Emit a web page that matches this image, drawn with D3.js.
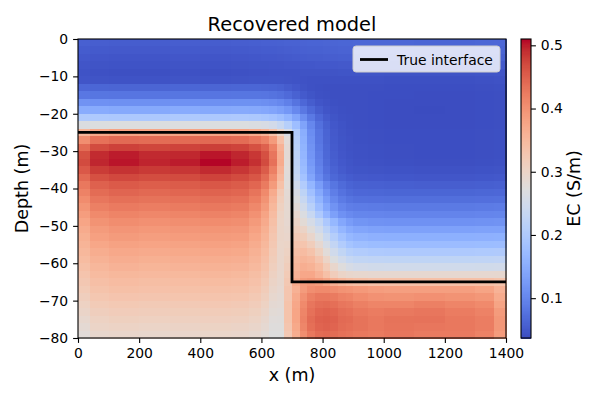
<!DOCTYPE html>
<html>
<head>
<meta charset="utf-8">
<script src="https://cdn.jsdelivr.net/npm/d3@7"></script>
<style>
  body { margin: 0; background: #fff; }
  svg { display: block; font-family: "DejaVu Sans", sans-serif; }
</style>
</head>
<body>
<div id="chart"></div>
<script>
// cell edges of the recovered model
const xEdges = [0, 40, 100, 200, 300, 400, 500, 560, 600, 625, 650, 675, 700, 725, 750, 775, 800, 825, 850, 875, 900, 950, 1000, 1100, 1200, 1300, 1360, 1400];
const depthEdges = [0, 2, 4, 6, 8, 10, 12, 14, 16, 18, 20, 22, 24, 26, 28, 30, 32, 34, 36, 38, 40,
                    42, 44, 46, 48, 50, 52, 54, 56, 58, 60, 62, 64, 66, 68, 70, 72, 74, 76, 78, 80];

// EC (S/m), one row per depth layer, one value per x cell
const ecGrid = [
  [.058,.056,.055,.055,.056,.055,.056,.057,.058,.058,.059,.060,.060,.061,.062,.062,.063,.063,.064,.064,.065,.065,.065,.064,.064,.065,.066],
  [.054,.052,.051,.051,.052,.051,.052,.053,.054,.054,.055,.056,.057,.058,.059,.059,.060,.060,.061,.061,.062,.062,.062,.061,.061,.062,.063],
  [.050,.048,.047,.047,.048,.047,.048,.049,.050,.050,.051,.052,.053,.054,.055,.055,.056,.056,.057,.057,.058,.058,.058,.057,.057,.058,.059],
  [.047,.045,.044,.044,.045,.044,.045,.046,.046,.047,.047,.048,.048,.049,.049,.050,.050,.050,.051,.051,.051,.051,.051,.050,.050,.051,.052],
  [.044,.042,.041,.041,.042,.041,.042,.043,.043,.044,.044,.044,.044,.045,.045,.045,.045,.045,.046,.046,.046,.046,.045,.045,.045,.046,.047],
  [.047,.045,.044,.044,.045,.044,.045,.046,.046,.046,.046,.045,.044,.043,.042,.042,.042,.042,.042,.042,.042,.042,.041,.041,.041,.042,.043],
  [.066,.064,.063,.063,.064,.063,.064,.064,.063,.062,.060,.055,.050,.045,.042,.041,.040,.040,.040,.040,.040,.040,.039,.039,.039,.040,.041],
  [.084,.082,.081,.081,.082,.081,.082,.082,.081,.079,.076,.069,.060,.052,.046,.042,.041,.040,.040,.040,.040,.039,.039,.038,.038,.039,.040],
  [.117,.115,.113,.113,.115,.113,.114,.114,.112,.109,.104,.094,.080,.066,.055,.047,.043,.041,.040,.040,.040,.039,.038,.038,.038,.039,.040],
  [.150,.148,.146,.146,.148,.146,.147,.146,.143,.139,.133,.122,.104,.085,.068,.055,.047,.043,.041,.040,.040,.039,.038,.037,.038,.039,.040],
  [.202,.200,.198,.198,.200,.198,.199,.197,.193,.187,.178,.163,.140,.112,.086,.066,.053,.046,.042,.041,.040,.039,.038,.038,.038,.039,.040],
  [.268,.270,.272,.270,.271,.270,.270,.267,.262,.253,.236,.212,.178,.138,.102,.076,.059,.049,.044,.041,.040,.039,.038,.038,.038,.039,.040],
  [.355,.375,.382,.380,.381,.382,.380,.372,.360,.338,.300,.262,.205,.152,.110,.081,.062,.051,.045,.042,.041,.040,.039,.039,.039,.040,.041],
  [.405,.435,.442,.440,.441,.443,.440,.430,.418,.390,.340,.280,.212,.157,.113,.083,.063,.052,.046,.043,.041,.040,.039,.039,.039,.040,.041],
  [.440,.470,.478,.474,.476,.480,.476,.465,.450,.418,.360,.285,.216,.161,.117,.086,.065,.053,.047,.043,.042,.041,.040,.039,.039,.040,.041],
  [.465,.493,.500,.494,.495,.503,.496,.485,.466,.430,.368,.285,.220,.165,.120,.089,.067,.055,.048,.044,.042,.041,.040,.039,.039,.040,.041],
  [.470,.496,.503,.497,.500,.510,.500,.490,.470,.435,.370,.282,.224,.170,.125,.093,.070,.057,.050,.046,.043,.042,.041,.040,.040,.041,.042],
  [.458,.482,.488,.483,.486,.494,.486,.475,.455,.420,.360,.280,.229,.176,.131,.098,.075,.061,.053,.048,.046,.045,.044,.043,.043,.044,.045],
  [.443,.466,.472,.468,.470,.476,.470,.460,.440,.405,.350,.278,.236,.186,.141,.106,.082,.067,.059,.054,.051,.050,.049,.048,.048,.049,.050],
  [.428,.450,.456,.453,.455,.459,.455,.445,.425,.390,.338,.280,.250,.205,.165,.130,.100,.082,.070,.062,.059,.058,.057,.056,.056,.057,.058],
  [.418,.440,.446,.443,.445,.448,.445,.432,.410,.370,.322,.285,.262,.222,.182,.146,.115,.092,.078,.070,.066,.065,.064,.064,.064,.065,.066],
  [.408,.430,.436,.433,.435,.438,.435,.422,.400,.360,.314,.287,.272,.237,.198,.161,.128,.103,.088,.080,.076,.075,.074,.074,.074,.075,.076],
  [.398,.420,.426,.423,.425,.428,.425,.412,.390,.352,.308,.288,.282,.252,.214,.177,.143,.117,.100,.092,.089,.088,.087,.087,.087,.088,.089],
  [.388,.410,.416,.413,.415,.418,.415,.402,.380,.345,.303,.289,.292,.268,.236,.200,.164,.134,.115,.106,.101,.100,.099,.099,.099,.100,.101],
  [.378,.400,.406,.403,.405,.408,.405,.392,.371,.339,.300,.290,.302,.283,.258,.232,.198,.168,.143,.128,.119,.116,.115,.115,.115,.116,.117],
  [.370,.391,.397,.394,.396,.398,.396,.383,.364,.334,.299,.293,.312,.302,.278,.252,.220,.190,.165,.148,.140,.136,.135,.135,.135,.136,.137],
  [.364,.384,.390,.387,.389,.391,.389,.376,.358,.329,.299,.296,.322,.316,.296,.271,.240,.210,.185,.168,.160,.156,.155,.155,.155,.156,.157],
  [.358,.376,.382,.379,.381,.383,.381,.369,.352,.325,.298,.300,.331,.331,.315,.290,.260,.230,.205,.188,.180,.176,.175,.175,.175,.176,.177],
  [.352,.368,.374,.371,.373,.375,.373,.362,.346,.320,.297,.305,.340,.345,.335,.310,.280,.250,.228,.212,.205,.201,.200,.200,.200,.201,.202],
  [.346,.361,.367,.364,.366,.368,.366,.356,.341,.316,.297,.310,.348,.356,.350,.330,.300,.270,.250,.235,.228,.226,.225,.225,.225,.226,.227],
  [.340,.354,.360,.357,.359,.361,.359,.350,.336,.312,.296,.315,.354,.366,.361,.346,.320,.295,.275,.261,.254,.251,.250,.250,.250,.251,.252],
  [.333,.347,.352,.350,.351,.353,.351,.343,.330,.307,.295,.320,.360,.375,.375,.360,.340,.315,.300,.294,.292,.290,.290,.290,.290,.290,.291],
  [.327,.341,.345,.343,.344,.346,.344,.337,.324,.302,.293,.325,.370,.390,.395,.390,.380,.365,.355,.348,.343,.340,.340,.340,.340,.340,.335],
  [.320,.335,.339,.337,.338,.340,.338,.331,.318,.297,.290,.330,.362,.390,.405,.410,.410,.405,.400,.398,.393,.388,.385,.386,.385,.380,.360],
  [.313,.328,.332,.330,.331,.333,.331,.324,.312,.292,.287,.330,.370,.402,.420,.428,.428,.425,.418,.415,.408,.402,.400,.403,.400,.395,.370],
  [.306,.320,.324,.322,.323,.325,.323,.317,.305,.287,.284,.335,.375,.410,.430,.438,.440,.437,.430,.427,.420,.415,.415,.420,.415,.410,.380],
  [.299,.313,.317,.315,.316,.318,.316,.310,.299,.283,.281,.335,.378,.415,.435,.445,.448,.445,.438,.435,.428,.424,.427,.430,.424,.418,.390],
  [.292,.306,.310,.308,.309,.311,.309,.303,.293,.279,.278,.335,.378,.418,.440,.450,.452,.450,.442,.440,.433,.428,.433,.434,.428,.423,.395],
  [.286,.300,.303,.301,.302,.304,.302,.297,.288,.276,.276,.330,.373,.414,.437,.447,.450,.447,.440,.437,.433,.428,.432,.430,.428,.423,.395],
  [.280,.294,.297,.295,.296,.298,.296,.291,.283,.273,.274,.325,.368,.405,.428,.440,.443,.440,.435,.432,.428,.425,.430,.426,.426,.418,.390]
];

// true interface (x in m, depth in m)
const interfaceX = [0, 700, 700, 1400];
const interfaceDepth = [25, 25, 65, 65];

const xTicks = [0, 200, 400, 600, 800, 1000, 1200, 1400];
const yTicks = [0, -10, -20, -30, -40, -50, -60, -70, -80];
const cbarTicks = [0.1, 0.2, 0.3, 0.4, 0.5];

// matplotlib coolwarm anchors
const coolwarmStops = [
  [59,76,192],[68,90,204],[77,104,215],[87,117,225],[98,130,234],[108,142,241],[119,154,247],[130,165,251],
  [141,176,254],[152,185,255],[163,194,255],[174,201,253],[184,208,249],[194,213,244],[204,217,238],[213,219,230],
  [221,221,221],[229,216,209],[236,211,197],[241,204,185],[245,196,173],[247,187,160],[247,177,148],[247,166,135],
  [244,154,123],[241,141,111],[236,127,99],[229,112,88],[222,96,77],[213,80,66],[203,62,56],[192,40,47],[180,4,38]
];

const width = 600, height = 400;
const margin = { top: 39, left: 78, right: 94, bottom: 62 };
const plotW = width - margin.left - margin.right,
      plotH = height - margin.top - margin.bottom;

const svg = d3.select("#chart").append("svg")
  .attr("width", width)
  .attr("height", height);

const x = d3.scaleLinear().domain([0, 1400]).range([margin.left, margin.left + plotW]);
const y = d3.scaleLinear().domain([0, -80]).range([margin.top, margin.top + plotH]);

const ecExtent = d3.extent(ecGrid.flat());
const cmap = d3.scaleLinear()
  .domain(coolwarmStops.map((d, i) => i / (coolwarmStops.length - 1)))
  .range(coolwarmStops.map(c => d3.rgb(c[0], c[1], c[2])))
  .interpolate(d3.interpolateRgb);
const norm = d3.scaleLinear().domain(ecExtent).range([0, 1]).clamp(true);
const color = v => cmap(norm(v));

// cells
const cells = [];
ecGrid.forEach((row, i) => row.forEach((v, j) => cells.push({ i, j, v })));

svg.append("g")
  .attr("shape-rendering", "crispEdges")
  .selectAll("rect")
  .data(cells)
  .enter()
  .append("rect")
  .attr("x", d => x(xEdges[d.j]))
  .attr("y", d => y(-depthEdges[d.i]))
  .attr("width", d => x(xEdges[d.j + 1]) - x(xEdges[d.j]) + 0.5)
  .attr("height", d => y(-depthEdges[d.i + 1]) - y(-depthEdges[d.i]) + 0.5)
  .attr("fill", d => color(d.v));

// true interface
const line = d3.line()
  .x((d, i) => x(interfaceX[i]))
  .y((d, i) => y(-interfaceDepth[i]));
svg.append("path")
  .attr("d", line(interfaceX))
  .attr("fill", "none")
  .attr("stroke", "#000")
  .attr("stroke-width", 2.8);

// frame
svg.append("rect")
  .attr("x", margin.left).attr("y", margin.top)
  .attr("width", plotW).attr("height", plotH)
  .attr("fill", "none").attr("stroke", "#000").attr("stroke-width", 1.1);

// axes
const fmt = d3.format("d");
const xAxis = svg.append("g")
  .attr("transform", "translate(0," + (margin.top + plotH) + ")")
  .call(d3.axisBottom(x).tickValues(xTicks).tickFormat(fmt).tickSize(4.9).tickPadding(4.9));
const yAxis = svg.append("g")
  .attr("transform", "translate(" + margin.left + ",0)")
  .call(d3.axisLeft(y).tickValues(yTicks).tickFormat(fmt).tickSize(4.9).tickPadding(4.9));
[xAxis, yAxis].forEach(g => {
  g.select(".domain").remove();
  g.selectAll(".tick line").attr("stroke", "#000").attr("stroke-width", 1.1);
  g.selectAll(".tick text").attr("font-size", "13.9px").attr("fill", "#000")
    .attr("font-family", "DejaVu Sans, sans-serif");
});

// labels
svg.append("text")
  .attr("x", margin.left + plotW / 2).attr("y", 31)
  .attr("text-anchor", "middle").attr("font-size", "19.4px")
  .text("Recovered model");
svg.append("text")
  .attr("x", margin.left + plotW / 2).attr("y", 381)
  .attr("text-anchor", "middle").attr("font-size", "17.5px")
  .text("x (m)");
svg.append("text")
  .attr("transform", "translate(28," + (margin.top + plotH / 2) + ") rotate(-90)")
  .attr("text-anchor", "middle").attr("font-size", "17.5px")
  .text("Depth (m)");

// legend
const lg = svg.append("g").attr("transform", "translate(353,46)");
lg.append("rect")
  .attr("width", 147).attr("height", 26).attr("rx", 3)
  .attr("fill", "#fff").attr("fill-opacity", 0.8)
  .attr("stroke", "#cccccc").attr("stroke-width", 1);
lg.append("line")
  .attr("x1", 7).attr("x2", 35).attr("y1", 13.5).attr("y2", 13.5)
  .attr("stroke", "#000").attr("stroke-width", 2.8);
lg.append("text")
  .attr("x", 44).attr("y", 18.5)
  .attr("font-size", "13.9px")
  .text("True interface");

// colorbar
const cbX = 521, cbW = 10;
const cy = d3.scaleLinear().domain(ecExtent).range([margin.top + plotH, margin.top]);
const steps = d3.range(256).map(k => ecExtent[0] + (ecExtent[1] - ecExtent[0]) * k / 256);
const stepH = (ecExtent[1] - ecExtent[0]) / 256;
svg.append("g")
  .attr("shape-rendering", "crispEdges")
  .selectAll("rect")
  .data(steps)
  .enter()
  .append("rect")
  .attr("x", cbX)
  .attr("width", cbW)
  .attr("y", d => cy(d + stepH))
  .attr("height", d => cy(d) - cy(d + stepH) + 0.6)
  .attr("fill", d => color(d + stepH / 2));
svg.append("rect")
  .attr("x", cbX).attr("y", margin.top)
  .attr("width", cbW).attr("height", plotH)
  .attr("fill", "none").attr("stroke", "#000").attr("stroke-width", 1.1);
const cAxis = svg.append("g")
  .attr("transform", "translate(" + (cbX + cbW) + ",0)")
  .call(d3.axisRight(cy).tickValues(cbarTicks).tickFormat(d3.format(".1f")).tickSize(4.9).tickPadding(4.9));
cAxis.select(".domain").remove();
cAxis.selectAll(".tick line").attr("stroke", "#000").attr("stroke-width", 1.1);
cAxis.selectAll(".tick text").attr("font-size", "13.9px").attr("fill", "#000")
  .attr("font-family", "DejaVu Sans, sans-serif");
svg.append("text")
  .attr("transform", "translate(580," + (margin.top + plotH / 2) + ") rotate(-90)")
  .attr("text-anchor", "middle").attr("font-size", "17.5px")
  .text("EC (S/m)");
</script>
</body>
</html>
